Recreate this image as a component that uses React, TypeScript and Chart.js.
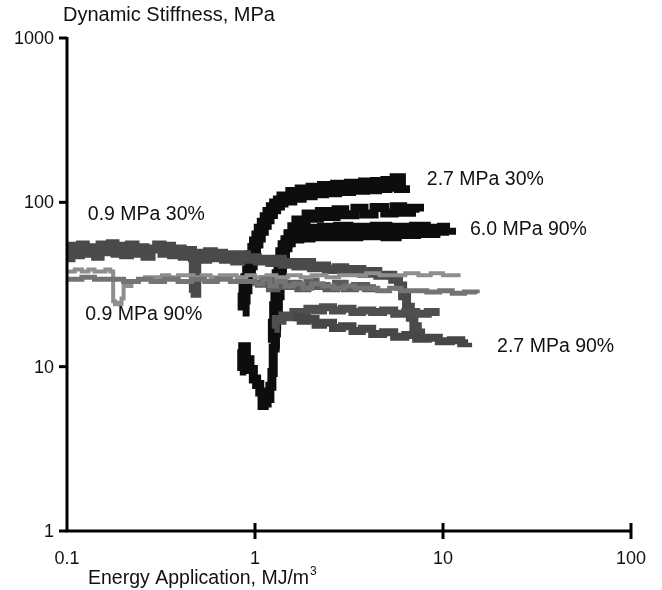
import React, { useEffect, useRef } from "react";
import { Chart, registerables } from "chart.js";

Chart.register(...registerables);

// Axis ticks
const xTicks = [0.1, 1, 10, 100];
const yTicks = [1, 10, 100, 1000];
const xTickLabels = ["0.1", "1", "10", "100"];
const yTickLabels = ["1", "10", "100", "1000"];

// 0.9 MPa 30%
const aX = [0.1,0.105,0.11,0.118,0.125,0.133,0.142,0.15,0.16,0.17,0.18,0.19,0.2,0.215,0.23,0.245,0.26,0.28,0.3,0.32,0.34,0.36,0.385,0.41,0.44,0.465,0.47,0.48,0.49,0.5,0.53,0.56,0.6,0.64,0.68,0.73,0.78,0.84,0.9,0.96,1.03,1.1,1.2,1.3,1.4,1.5,1.65,1.8,2.0,2.2,2.4,2.7,3.0,3.3,3.7,4.1,4.5,5.0,5.4,5.8,6.1,6.4,6.7,7.0,7.3,7.6];
const aY = [46,54,48,55,49,53,47,55,50,56,49,54,48,55,49,53,47,52,55,49,54,48,52,47,51,46,30,28,45,49,45,50,46,49,45,48,44,48,45,46,44,45,43,45,42,43,41,43,40,41,39,40,38,39,37,38,36,36,34,31,27,23,20,17.5,16,15];

// 0.9 MPa 90% (light)
const bX = [0.1,0.11,0.12,0.13,0.14,0.15,0.16,0.17,0.176,0.18,0.185,0.19,0.195,0.2,0.21,0.22,0.24,0.26,0.29,0.32,0.35,0.39,0.43,0.47,0.52,0.58,0.65,0.72,0.8,0.9,1.0,1.15,1.3,1.5,1.75,2.0,2.4,2.8,3.3,3.9,4.6,5.4,6.3,7.4,8.6,10,11.2,12.4];
const bY = [38,39,38,39,38,38,39,38,25,24,24.5,24,26,31,31,33,34,35,35,36,35,36,36,35,36,35,36,36,35,36,35,36,35,36,35,36,35,36,36,37,36,36,37,36,37,36,36,36];

// 0.9 MPa 90% (medium)
const cX = [0.1,0.12,0.14,0.17,0.2,0.24,0.28,0.33,0.39,0.46,0.54,0.63,0.74,0.86,1.0,1.1,1.2,1.3,1.45,1.6,1.8,2.0,2.3,2.6,3.0,3.4,3.9,4.5,5.2,6.0,7.0,8.2,9.6,11.2,13,15.2];
const cY = [34,35,34,34,33,34,33,34,33,34,33,34,33,33,32,34,31,33,31,32,30,32,31,30,31,30,30,29,30,29,29,28.5,29,28,28.5,28];

// dark band around 30
const dX = [1.0,1.1,1.2,1.3,1.4,1.55,1.7,1.9,2.1,2.4,2.7,3.0,3.4,3.9,4.4];
const dY = [32,34,30,33,31,32,30,33,31,30,32,30,31,30,30];

// 2.7 MPa 90% upper
const eX = [1.27,1.29,1.33,1.4,1.5,1.6,1.75,1.9,2.1,2.3,2.6,2.9,3.3,3.7,4.2,4.8,5.5,6.3,7.2,8.3,9.6];
const eY = [17,19.5,19,20.5,20,21.5,21,22.5,22,23,22,22.5,21.5,22,21.5,22,21,21.5,21,21.5,21.5];

// 2.7 MPa 90% lower
const fX = [1.6,1.75,1.9,2.1,2.3,2.6,2.9,3.3,3.7,4.2,4.8,5.5,6.3,7.2,8.3,9.5,11,12.5,13.6];
const fY = [20,19,19.5,18,18.5,17.2,17.6,16.5,17,15.8,16.2,15.2,15.6,14.8,15,14.3,14.5,13.9,14];

// 2.7 MPa 30%
const gX = [0.86,0.87,0.88,0.9,0.92,0.94,0.96,0.98,1.0,1.03,1.06,1.1,1.14,1.18,1.23,1.28,1.34,1.4,1.48,1.56,1.65,1.75,1.87,2.0,2.15,2.3,2.5,2.7,2.95,3.2,3.5,3.8,4.1,4.4,4.7,5.0,5.3,5.6,5.9,6.2];
const gY = [22,26,30,34,38,42,47,52,57,62,68,74,80,86,92,97,101,107,104,114,108,118,112,121,115,124,117,126,119,128,121,130,122,131,124,133,126,138,124,127];

// dip series rising to ~88
const hX = [0.83,0.85,0.86,0.9,0.94,0.98,1.02,1.06,1.09,1.12,1.16,1.2,1.23,1.25,1.28,1.3,1.33,1.36,1.4,1.45,1.5,1.57,1.65,1.75,1.87,2.0,2.2,2.45,2.7,3.0,3.4,3.8,4.3,4.9,5.5,6.1,6.8,7.5];
const hY = [9.4,12,13.2,11,9.6,8.4,7.8,7.0,5.8,6.0,6.4,7.6,9.2,13,16,19.5,27,36,46,56,64,71,78,76,85,80,88,82,90,84,92,85,93,86,94,87,92,88];

// 6.0 MPa 90%
const iX = [1.24,1.26,1.28,1.3,1.32,1.35,1.38,1.42,1.47,1.53,1.6,1.7,1.8,1.95,2.1,2.3,2.55,2.8,3.1,3.5,3.9,4.4,5.0,5.6,6.3,7.1,8.0,9.0,10.0,10.9];
const iY = [14,18,23,29,36,43,49,54,58,63,61,66,62,68,63,69,63,70,63,69,64,70,63,69,65,70,66,68,69,70];

// Annotations
const labelTexts = ["0.9 MPa 30%", "0.9 MPa 90%", "2.7 MPa 30%", "6.0 MPa 90%", "2.7 MPa 90%"];
const labelX = [0.129, 0.125, 8.2, 13.9, 19.4];
const labelY = [84, 20.8, 137, 68, 13.2];

const FONT = "'Liberation Sans', Arial, sans-serif";

function pts(xs: number[], ys: number[]) {
  return xs.map((x, i) => ({ x, y: ys[i] }));
}

export default function App() {
  const ref = useRef<HTMLCanvasElement | null>(null);
  useEffect(() => {
    if (!ref.current) return;
    const mk = (xs: number[], ys: number[], color: string, w: number) => ({
      data: pts(xs, ys),
      borderColor: color,
      backgroundColor: color,
      borderWidth: w,
      pointRadius: 0,
      showLine: true,
      stepped: true,
      borderJoinStyle: "miter" as const,
      borderCapStyle: "butt" as const,
      fill: false,
    });
    const axesPlugin = {
      id: "axesPlugin",
      afterDatasetsDraw(chart: any) {
        const ctx = chart.ctx;
        const xs = chart.scales.x;
        const ys = chart.scales.y;
        const left = xs.getPixelForValue(0.1);
        const right = xs.getPixelForValue(100);
        const top = ys.getPixelForValue(1000);
        const bottom = ys.getPixelForValue(1);
        ctx.save();
        ctx.strokeStyle = "#000";
        ctx.lineWidth = 3;
        ctx.beginPath();
        ctx.moveTo(left, top - 1);
        ctx.lineTo(left, bottom);
        ctx.lineTo(right, bottom);
        ctx.stroke();
        yTicks.forEach((v) => {
          const py = ys.getPixelForValue(v);
          ctx.beginPath();
          ctx.moveTo(left - 8, py);
          ctx.lineTo(left, py);
          ctx.stroke();
        });
        xTicks.forEach((v, i) => {
          if (i === 0) return;
          const px = xs.getPixelForValue(v);
          ctx.beginPath();
          ctx.moveTo(px, bottom - 8);
          ctx.lineTo(px, bottom + 8);
          ctx.stroke();
        });
        ctx.fillStyle = "#111";
        ctx.font = `18px ${FONT}`;
        ctx.textAlign = "right";
        ctx.textBaseline = "middle";
        yTicks.forEach((v, i) => {
          ctx.fillText(yTickLabels[i], left - 13, ys.getPixelForValue(v) + 1);
        });
        ctx.textAlign = "center";
        xTicks.forEach((v, i) => {
          ctx.fillText(xTickLabels[i], xs.getPixelForValue(v), bottom + 28);
        });
        ctx.font = `20px ${FONT}`;
        ctx.textAlign = "left";
        ctx.fillText("Dynamic Stiffness, MPa", 63, 15);
        ctx.font = `19.5px ${FONT}`;
        const t = "Energy Application, MJ/m";
        ctx.fillText(t, 88, bottom + 48);
        const tw = ctx.measureText(t).width;
        ctx.font = `12px ${FONT}`;
        ctx.fillText("3", 88 + tw + 1, bottom + 41);
        ctx.font = `19.5px ${FONT}`;
        ctx.textAlign = "left";
        labelTexts.forEach((s, i) => {
          ctx.fillText(s, xs.getPixelForValue(labelX[i]), ys.getPixelForValue(labelY[i]));
        });
        ctx.restore();
      },
    };
    const chart = new Chart(ref.current, {
      type: "scatter",
      data: {
        datasets: [
          mk(cX, cY, "#747474", 5),
          mk(bX, bY, "#8e8e8e", 4),
          mk(dX, dY, "#5c5c5c", 8),
          mk(fX, fY, "#474747", 8),
          mk(eX, eY, "#4f4f4f", 8),
          mk(aX, aY, "#4a4a4a", 9),
          mk(iX, iY, "#0d0d0d", 12),
          mk(hX, hY, "#0d0d0d", 9),
          mk(gX, gY, "#0d0d0d", 12),
        ],
      },
      options: {
        responsive: false,
        animation: false,
        devicePixelRatio: 1,
        layout: { padding: { left: 67, right: 31, top: 38, bottom: 59 } },
        plugins: { legend: { display: false }, tooltip: { enabled: false } },
        scales: {
          x: { type: "logarithmic", min: 0.1, max: 100, display: false },
          y: { type: "logarithmic", min: 1, max: 1000, display: false },
        },
      },
      plugins: [axesPlugin],
    } as any);
    return () => chart.destroy();
  }, []);
  return (
    <div style={{ position: "fixed", left: 0, top: 0, width: 662, height: 590, background: "#fff" }}>
      <canvas ref={ref} width={662} height={590} style={{ width: 662, height: 590 }} />
    </div>
  );
}
